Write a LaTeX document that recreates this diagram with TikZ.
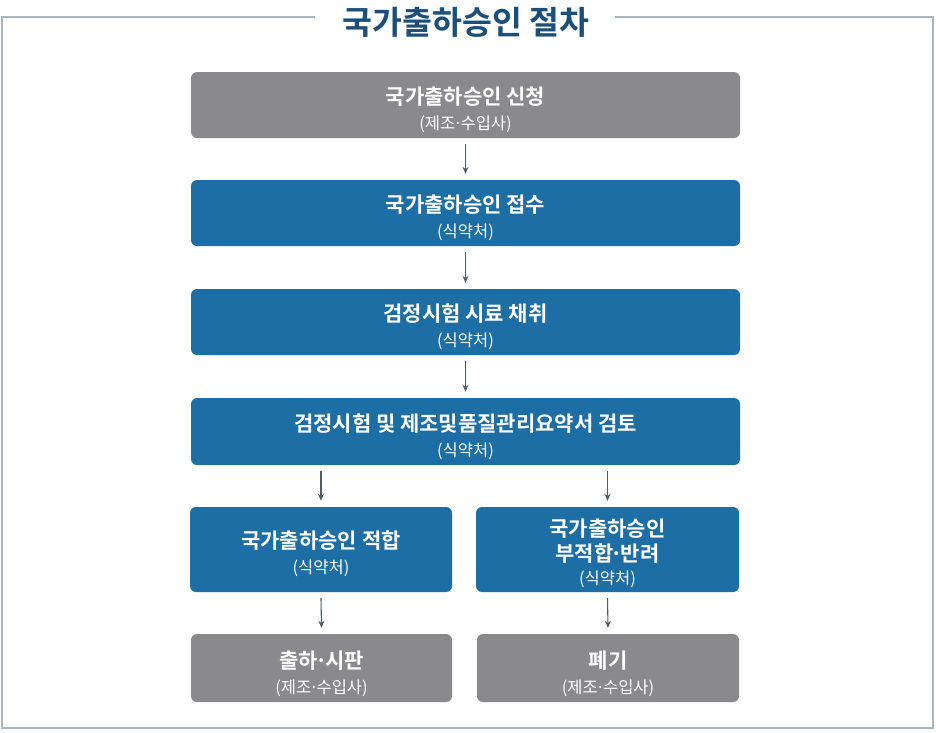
\documentclass[tikz,border=0pt]{standalone}
\usepackage{fontspec}
\newfontfamily\krfont{Noto Sans CJK KR}
\newfontfamily\krbold{Noto Sans CJK KR Bold}
\usetikzlibrary{arrows.meta}
\definecolor{framecol}{HTML}{A9B4BC}
\definecolor{titlecol}{HTML}{1B4F7A}
\definecolor{bluebox}{HTML}{1C6EA4}
\definecolor{graybox}{HTML}{8A8A8C}
\definecolor{arrowcol}{HTML}{505D69}
\tikzset{
  base/.style={rectangle, rounded corners=6pt, inner sep=0pt},
  bluestep/.style={base, fill=bluebox},
  graystep/.style={base, fill=graybox},
  boxtext/.style={text=white, align=center, inner sep=0pt,
    font=\krfont\fontsize{16}{25}\selectfont},
  flow/.style={draw=arrowcol, line width=1.1pt, -{Stealth[length=7pt,width=6pt]}},
}
\newcommand{\mainline}[1]{{\krbold\fontsize{21}{25}\selectfont #1}}
\newcommand{\subline}[1]{{\krfont\fontsize{16.5}{25}\selectfont #1}}
\newcommand{\mdot}{\kern-0.12em·\kern-0.12em}
\begin{document}
\begin{tikzpicture}[x=1pt,y=-1pt]
\useasboundingbox[fill=white] (0,0) rectangle (936,732);
% frame
\coordinate (fl) at (315,17);
\coordinate (fr) at (615,17);
\draw[framecol, line width=1.2pt] (fl) -- (2,17) -- (2,728) -- (933,728) -- (933,17) -- (fr);
\node[text=titlecol, font=\krbold\fontsize{32.5}{36}\selectfont] (title) at (466,22.5) {국가출하승인 절차};
% boxes
\node[graystep, minimum width=549pt, minimum height=66pt] (b1) at (465.5,105) {};
\node[bluestep, minimum width=549pt, minimum height=66pt] (b2) at (465.5,213) {};
\node[bluestep, minimum width=549pt, minimum height=66pt] (b3) at (465.5,322) {};
\node[bluestep, minimum width=549pt, minimum height=67pt] (b4) at (465.5,431.5) {};
\node[bluestep, minimum width=262pt, minimum height=85pt] (b5) at (321,549.5) {};
\node[bluestep, minimum width=263pt, minimum height=85pt] (b6) at (607.5,549.5) {};
\node[graystep, minimum width=261pt, minimum height=68pt] (b7) at (321.5,668) {};
\node[graystep, minimum width=262pt, minimum height=68pt] (b8) at (608,668) {};
% texts
\node[boxtext] (t1) at ([yshift=-5pt]b1.center) {\mainline{국가출하승인 신청}\\\subline{(제조\mdot 수입사)}};
\node[boxtext] (t2) at ([yshift=-5pt]b2.center) {\mainline{국가출하승인 접수}\\\subline{(식약처)}};
\node[boxtext] (t3) at ([yshift=-5pt]b3.center) {\mainline{검정시험 시료 채취}\\\subline{(식약처)}};
\node[boxtext] (t4) at ([yshift=-5pt]b4.center) {\mainline{검정시험 및 제조및품질관리요약서 검토}\\\subline{(식약처)}};
\node[boxtext] (t5) at ([yshift=-4pt]b5.center) {\mainline{국가출하승인 적합}\\\subline{(식약처)}};
\node[boxtext] (t6) at ([yshift=-4pt]b6.center) {\mainline{국가출하승인}\\\mainline{부적합\mdot 반려}\\[-2pt]\subline{(식약처)}};
\node[boxtext] (t7) at ([yshift=-6pt]b7.center) {\mainline{출하\mdot 시판}\\\subline{(제조\mdot 수입사)}};
\node[boxtext] (t8) at ([yshift=-6pt]b8.center) {\mainline{폐기}\\\subline{(제조\mdot 수입사)}};
% arrows
\draw[flow] ([yshift=-6pt]b1.south) -- ([yshift=6pt]b2.north);
\draw[flow] ([yshift=-6pt]b2.south) -- ([yshift=6pt]b3.north);
\draw[flow] ([yshift=-6pt]b3.south) -- ([yshift=6pt]b4.north);
\draw[flow] ([yshift=-6pt]b4.south -| b5.north) -- ([yshift=6pt]b5.north);
\draw[flow] ([yshift=-6pt]b4.south -| b6.north) -- ([yshift=6pt]b6.north);
\draw[flow] ([yshift=-6pt]b5.south) -- ([yshift=6pt]b7.north);
\draw[flow] ([yshift=-6pt]b6.south) -- ([yshift=6pt]b8.north);
\end{tikzpicture}
\end{document}
